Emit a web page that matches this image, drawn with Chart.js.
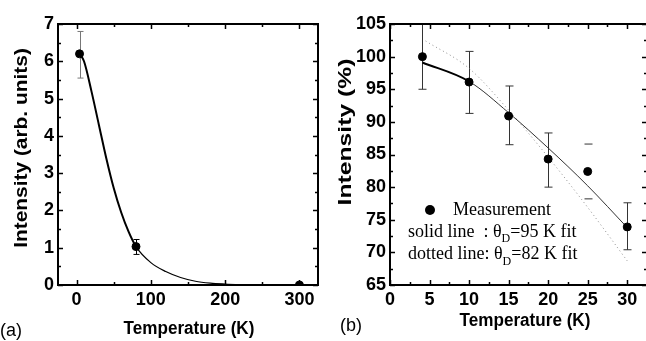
<!DOCTYPE html>
<html><head><meta charset="utf-8">
<script src="https://cdn.jsdelivr.net/npm/chart.js@4"></script>
<style>
html,body{margin:0;padding:0;background:#fff;overflow:hidden;width:646px;height:341px;}
#wa{position:absolute;left:0;top:0;width:323px;height:341px;}
#wb{position:absolute;left:323px;top:0;width:340px;height:341px;}
</style></head><body>
<div id="wa"><canvas id="ca" width="323" height="341"></canvas></div>
<div id="wb"><canvas id="cb" width="340" height="341"></canvas></div>
<script>
// ---------- Panel (a) data ----------
const tempA = [4, 80, 300];
const intensityA = [6.2, 1.03, 0.0];
const errLowA = [5.55, 0.82, null];
const errHighA = [6.8, 1.22, null];
const fitTempA = [4, 10, 20, 30, 40, 50, 60, 70, 80, 100, 120, 140, 160, 180, 200, 230];
const fitIntA = [6.2, 6.0, 5.2, 4.3, 3.4, 2.6, 1.95, 1.43, 1.03, 0.6, 0.36, 0.2, 0.1, 0.05, 0.025, 0.0];
const xTicksA = [0, 100, 200, 300];
const yTicksA = [0, 1, 2, 3, 4, 5, 6, 7];

// ---------- Panel (b) data ----------
const tempB = [4.1, 10, 15, 20, 25, 30];
const intensityB = [100, 96.1, 90.9, 84.3, 82.4, 73.9];
const errLowB = [95.0, 91.3, 86.5, 80.0, 78.2, 70.4];
const errHighB = [105.5, 100.8, 95.5, 88.3, 86.6, 77.6];
const solidTempB = [4.1, 10, 15, 20, 25, 30];
const solidIntB = [99.1, 96.2, 91.4, 86.0, 80.2, 73.8];
const dottedTempB = [4.5, 10, 15, 20, 25, 30];
const dottedIntB = [102.4, 98.2, 91.8, 84.6, 76.9, 68.7];
const xTicksB = [0, 5, 10, 15, 20, 25, 30];
const yTicksB = [65, 70, 75, 80, 85, 90, 95, 100, 105];

const pts = (xs, ys) => xs.map((x, i) => ({x, y: ys[i]}));
const SANS = 'Liberation Sans, Arial, sans-serif';
const SERIF = 'Liberation Serif, Times New Roman, serif';

const deco = {
  id: 'deco',
  beforeDatasetsDraw(chart) {
    const ds = chart.data.datasets[0];
    if (!ds.errLow) return;
    const {ctx, chartArea: a, scales: {x, y}} = chart;
    ctx.save();
    ctx.beginPath(); ctx.rect(a.left, a.top - 1, a.right - a.left, a.bottom - a.top + 2); ctx.clip();
    ds.data.forEach((p, i) => {
      const lo = ds.errLow[i], hi = ds.errHigh[i];
      if (lo == null) return;
      const px = Math.round(x.getPixelForValue(p.x)) + 0.5;
      const yl = y.getPixelForValue(lo), yh = y.getPixelForValue(hi);
      const cap = ds.errCap;
      ctx.strokeStyle = ds.errColor[i]; ctx.lineWidth = 1;
      ctx.beginPath();
      if (ds.errStem[i]) { ctx.moveTo(px, yl); ctx.lineTo(px, yh); }
      ctx.moveTo(px - cap, yl); ctx.lineTo(px + cap, yl);
      ctx.moveTo(px - cap, yh); ctx.lineTo(px + cap, yh);
      ctx.stroke();
    });
    ctx.restore();
  },
  afterDraw(chart, args, o) {
    const {ctx, chartArea: a, scales: {x, y}} = chart;
    ctx.save();
    ctx.strokeStyle = '#000';
    ctx.lineWidth = 2;
    ctx.strokeRect(a.left, a.top, a.right - a.left, a.bottom - a.top);
    ctx.lineWidth = 1.5;
    const majX = x.ticks.map(t => t.value), majY = y.ticks.map(t => t.value);
    const minors = (s, step, maj) => {
      const r = [];
      for (let v = Math.ceil(s.min / step) * step; v < s.max - 1e-9; v += step) {
        if (v > s.min + 1e-9 && !maj.some(m => Math.abs(m - v) < 1e-9)) r.push(v);
      }
      return r;
    };
    ctx.beginPath();
    const xt = (v, len) => {
      const px = Math.round(x.getPixelForValue(v)) + 0.5;
      ctx.moveTo(px, a.bottom); ctx.lineTo(px, a.bottom - len);
      ctx.moveTo(px, a.top); ctx.lineTo(px, a.top + len);
    };
    const yt = (v, len) => {
      const py = Math.round(y.getPixelForValue(v)) + 0.5;
      ctx.moveTo(a.left, py); ctx.lineTo(a.left + len, py);
      ctx.moveTo(a.right, py); ctx.lineTo(a.right - len, py);
    };
    majX.forEach(v => xt(v, 5));
    minors(x, o.minorX, majX).forEach(v => xt(v, 3));
    majY.forEach(v => yt(v, 5));
    minors(y, o.minorY, majY).forEach(v => yt(v, 3));
    ctx.stroke();

    ctx.fillStyle = '#000';
    ctx.textBaseline = 'middle';
    // panel letter
    ctx.font = '18px ' + SANS; ctx.textAlign = 'left';
    ctx.fillText(o.letter.text, o.letter.x, o.letter.y);
    // x title
    ctx.save();
    ctx.translate(o.xTitle.x, o.xTitle.y); ctx.scale(0.95, 1);
    ctx.font = 'bold 18px ' + SANS; ctx.textAlign = 'center';
    ctx.fillText(o.xTitle.text, 0, 0);
    ctx.restore();
    // y title
    ctx.save();
    ctx.translate(o.yTitle.x, o.yTitle.y); ctx.rotate(-Math.PI / 2); ctx.scale(o.yTitle.stretch, 1);
    ctx.font = 'bold ' + o.yTitle.size + 'px ' + SANS; ctx.textAlign = 'center';
    ctx.fillText(o.yTitle.text, 0, 0);
    ctx.restore();
    // legend
    if (o.legend) {
      const L = o.legend;
      ctx.beginPath(); ctx.arc(L.x, L.y, 5, 0, Math.PI * 2); ctx.fill();
      ctx.textAlign = 'left';
      ctx.font = '18px ' + SERIF;
      ctx.fillText(L.lines[0], L.x + 23, L.y);
      [L.lines[1], L.lines[2]].forEach((ln, k) => {
        const yy = L.y + 22 + k * 22.5;
        let xx = L.x - 22;
        ctx.font = '18px ' + SERIF;
        ctx.fillText(ln[0], xx, yy); xx += ctx.measureText(ln[0]).width;
        ctx.font = '12px ' + SERIF;
        ctx.fillText(ln[1], xx, yy + 7); xx += ctx.measureText(ln[1]).width;
        ctx.font = '18px ' + SERIF;
        ctx.fillText(ln[2], xx, yy);
      });
    }
    ctx.restore();
  }
};

const tickFont = {family: SANS, size: 18, weight: 'bold'};
function axis(min, max, ticksArr, sizeProp, size, pad) {
  return {
    type: 'linear', min, max,
    grid: {display: false, drawTicks: false},
    border: {display: false},
    ticks: {font: tickFont, color: '#000', padding: pad, includeBounds: false},
    afterBuildTicks: s => { s.ticks = ticksArr.map(v => ({value: v})); },
    afterFit: s => { s[sizeProp] = size; }
  };
}

new Chart(document.getElementById('ca'), {
  type: 'scatter',
  data: {datasets: [
    {data: pts(tempA, intensityA), pointRadius: 4, pointBackgroundColor: '#000', pointBorderColor: '#000',
     showLine: false, errLow: errLowA, errHigh: errHighA, errColor: ['#777', '#000', '#000'],
     errStem: [true, true, true], errCap: 3, order: 0},
    {data: pts(fitTempA, fitIntA), showLine: true, pointRadius: 0, borderColor: '#000',
     cubicInterpolationMode: 'monotone', borderWidth: 2,
     segment: {borderWidth: c => (c.p0.parsed.x < 79 ? 2 : 1.2)}, order: 1}
  ]},
  options: {
    responsive: false, animation: false, events: [],
    layout: {padding: {left: 0, top: 24, right: 3, bottom: 0}},
    plugins: {legend: {display: false}, tooltip: {enabled: false},
      deco: {minorX: 50, minorY: 0.5,
        letter: {text: '(a)', x: 0, y: 331},
        xTitle: {text: 'Temperature (K)', x: 189, y: 329},
        yTitle: {text: 'Intensity (arb. units)', x: 22, y: 148, size: 19, stretch: 1.1}}},
    scales: {
      x: axis(-25, 325, xTicksA, 'height', 56, 4),
      y: axis(0, 7, yTicksA, 'width', 58, 4)
    }
  },
  plugins: [deco]
});

new Chart(document.getElementById('cb'), {
  type: 'scatter',
  data: {datasets: [
    {data: pts(tempB, intensityB), pointRadius: 4, pointBackgroundColor: '#000', pointBorderColor: '#000',
     showLine: false, errLow: errLowB, errHigh: errHighB, errColor: ['#333', '#333', '#333', '#333', '#333', '#333'],
     errStem: [true, true, true, true, false, true], errCap: 4, order: 0},
    {data: pts(solidTempB, solidIntB), showLine: true, pointRadius: 0, borderColor: '#000',
     cubicInterpolationMode: 'monotone', borderWidth: 1,
     segment: {borderWidth: c => (c.p0DataIndex === 0 ? 2 : 1), borderColor: c => (c.p0DataIndex === 0 ? '#000' : '#333')}, order: 1},
    {data: pts(dottedTempB, dottedIntB), showLine: true, pointRadius: 0, borderColor: '#8c8c8c',
     cubicInterpolationMode: 'monotone', borderWidth: 1, borderDash: [1, 3], order: 2}
  ]},
  options: {
    responsive: false, animation: false, events: [],
    layout: {padding: {left: 0, top: 24, right: 16, bottom: 0}},
    plugins: {legend: {display: false}, tooltip: {enabled: false},
      deco: {minorX: 2.5, minorY: 2.5,
        letter: {text: '(b)', x: 17, y: 326},
        xTitle: {text: 'Temperature (K)', x: 202, y: 321},
        yTitle: {text: 'Intensity (%)', x: 22.5, y: 132, size: 19, stretch: 1.3},
        legend: {x: 107, y: 210, lines: ['Measurement', ['solid line  : \u03B8', 'D', '=95 K fit'], ['dotted line: \u03B8', 'D', '=82 K fit']]}}},
    scales: {
      x: axis(0, 32.5, xTicksB, 'height', 56, 4),
      y: axis(65, 105, yTicksB, 'width', 67, 4)
    }
  },
  plugins: [deco]
});
</script>
</body></html>
